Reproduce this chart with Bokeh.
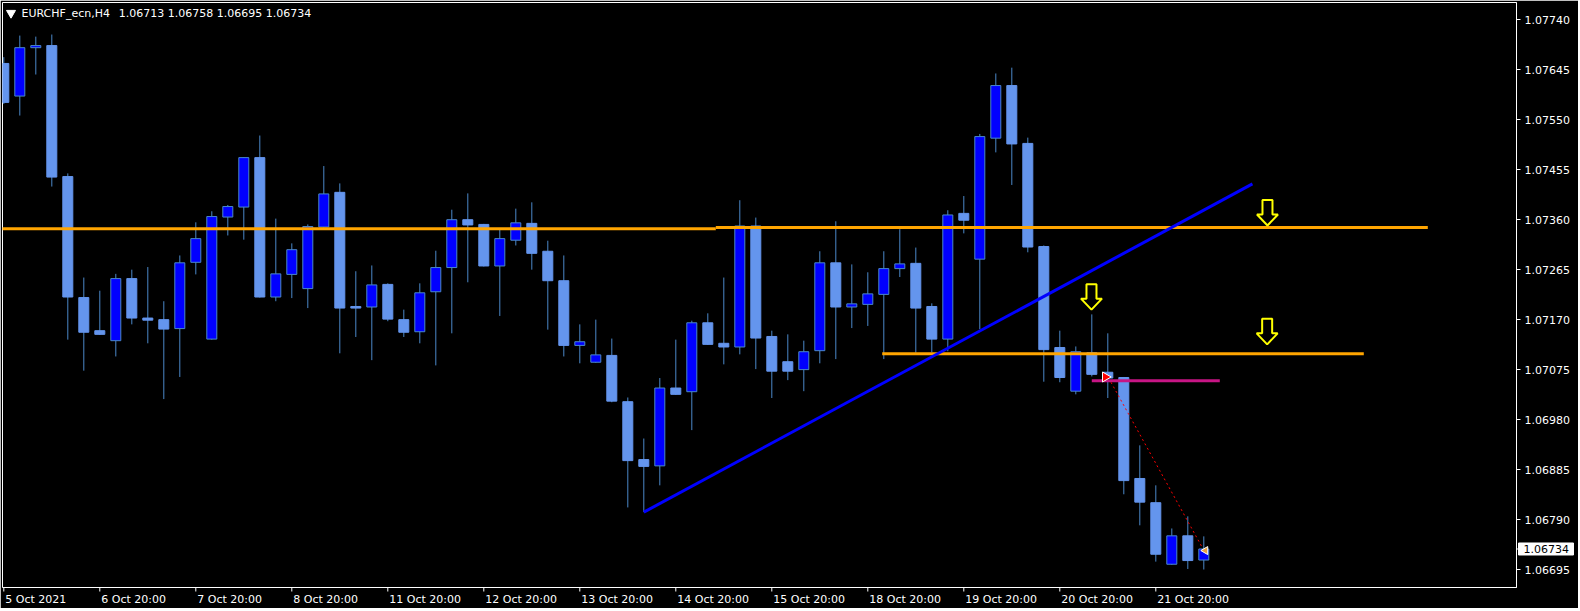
from bokeh.plotting import figure
from bokeh.models import LinearAxis, FixedTicker, Range1d, Label, PrintfTickFormatter
from bokeh.embed import file_html
from bokeh.resources import INLINE
from bokeh.core.properties import value

# ---------------- data (EURCHF_ecn, H4) ----------------
symbol = "EURCHF_ecn,H4"
bars = list(range(76))
opens = [1.07657, 1.07595, 1.07687, 1.07691, 1.07442, 1.07212, 1.07149, 1.07130, 1.07248, 1.07173,
         1.07170, 1.07153, 1.07279, 1.07133, 1.07365, 1.07384, 1.07478, 1.07213, 1.07256, 1.07229,
         1.07346, 1.07412, 1.07195, 1.07194, 1.07237, 1.07170, 1.07147, 1.07223, 1.07269, 1.07360,
         1.07351, 1.07272, 1.07321, 1.07353, 1.07300, 1.07244, 1.07121, 1.07089, 1.07102, 1.07014,
         1.06904, 1.06892, 1.07040, 1.07033, 1.07164, 1.07125, 1.07118, 1.07348, 1.07138, 1.07090,
         1.07075, 1.07111, 1.07278, 1.07194, 1.07199, 1.07218, 1.07267, 1.07277, 1.07195, 1.07133,
         1.07372, 1.07285, 1.07515, 1.07615, 1.07505, 1.07309, 1.07117, 1.07034, 1.07107, 1.07070,
         1.07060, 1.06868, 1.06822, 1.06705, 1.06759, 1.06713]
highs = [1.07669, 1.07710, 1.07708, 1.07712, 1.07448, 1.07250, 1.07225, 1.07257, 1.07265, 1.07270,
         1.07205, 1.07292, 1.07355, 1.07376, 1.07388, 1.07479, 1.07520, 1.07362, 1.07315, 1.07351,
         1.07462, 1.07429, 1.07262, 1.07273, 1.07239, 1.07189, 1.07239, 1.07301, 1.07379, 1.07410,
         1.07352, 1.07342, 1.07381, 1.07393, 1.07320, 1.07292, 1.07161, 1.07170, 1.07134, 1.07022,
         1.06944, 1.07059, 1.07132, 1.07168, 1.07182, 1.07250, 1.07397, 1.07364, 1.07149, 1.07142,
         1.07130, 1.07300, 1.07357, 1.07275, 1.07260, 1.07300, 1.07342, 1.07307, 1.07201, 1.07378,
         1.07405, 1.07523, 1.07638, 1.07649, 1.07516, 1.07311, 1.07149, 1.07119, 1.07180, 1.07144,
         1.07061, 1.06931, 1.06855, 1.06773, 1.06796, 1.06758]
lows = [1.07580, 1.07558, 1.07636, 1.07423, 1.07132, 1.07073, 1.07141, 1.07100, 1.07161, 1.07125,
        1.07019, 1.07061, 1.07256, 1.07132, 1.07330, 1.07322, 1.07212, 1.07205, 1.07211, 1.07192,
        1.07345, 1.07106, 1.07137, 1.07093, 1.07167, 1.07137, 1.07125, 1.07083, 1.07144, 1.07241,
        1.07271, 1.07177, 1.07311, 1.07265, 1.07151, 1.07100, 1.07087, 1.07088, 1.07013, 1.06813,
        1.06804, 1.06855, 1.07027, 1.06960, 1.07122, 1.07085, 1.07104, 1.07076, 1.07021, 1.07055,
        1.07034, 1.07087, 1.07095, 1.07154, 1.07158, 1.07095, 1.07251, 1.07107, 1.07108, 1.07110,
        1.07334, 1.07152, 1.07488, 1.07426, 1.07298, 1.07052, 1.07051, 1.07028, 1.07062, 1.07021,
        1.06838, 1.06779, 1.06710, 1.06704, 1.06696, 1.06695]
closes = [1.07583, 1.07687, 1.07691, 1.07441, 1.07213, 1.07146, 1.07142, 1.07248, 1.07173, 1.07169,
          1.07152, 1.07278, 1.07324, 1.07366, 1.07385, 1.07478, 1.07213, 1.07257, 1.07303, 1.07347,
          1.07409, 1.07192, 1.07192, 1.07236, 1.07171, 1.07146, 1.07221, 1.07269, 1.07360, 1.07350,
          1.07272, 1.07324, 1.07354, 1.07296, 1.07244, 1.07121, 1.07128, 1.07103, 1.07015, 1.06902,
          1.06891, 1.07040, 1.07028, 1.07164, 1.07123, 1.07118, 1.07348, 1.07135, 1.07072, 1.07072,
          1.07109, 1.07278, 1.07194, 1.07200, 1.07219, 1.07267, 1.07276, 1.07192, 1.07133, 1.07369,
          1.07359, 1.07518, 1.07615, 1.07504, 1.07308, 1.07113, 1.07060, 1.07109, 1.07066, 1.07059,
          1.06864, 1.06823, 1.06724, 1.06759, 1.06712, 1.06734]

time_label_bars = [0, 6, 12, 18, 24, 30, 36, 42, 48, 54, 60, 66, 72]
time_labels = ["5 Oct 2021", "6 Oct 20:00", "7 Oct 20:00", "8 Oct 20:00", "11 Oct 20:00",
               "12 Oct 20:00", "13 Oct 20:00", "14 Oct 20:00", "15 Oct 20:00", "18 Oct 20:00",
               "19 Oct 20:00", "20 Oct 20:00", "21 Oct 20:00"]
price_ticks = [1.07740, 1.07645, 1.07550, 1.07455, 1.07360, 1.07265, 1.07170,
               1.07075, 1.06980, 1.06885, 1.06790, 1.06695]
last_price = 1.06734

# drawn objects (bar index, price)
level_upper_left = {"x0": -0.5, "x1": 44.5, "price": 1.07343}
level_upper_right = {"x0": 44.5, "x1": 89.0, "price": 1.07345}
level_lower = {"x0": 54.9, "x1": 85.0, "price": 1.07105}
trend_x = [40.0, 78.04]
trend_y = [1.06804, 1.07428]
entry_level = {"x0": 68.0, "x1": 76.0, "price": 1.07054}
trade_path_x = [69.2, 74.9]
trade_path_y = [1.07051, 1.06737]
entry_mark = (68.85, 1.07061)
exit_mark = (75.1, 1.06731)
arrow_tip_x = [67.98, 78.98, 78.96]
arrow_tip_y = [1.07189, 1.07349, 1.07123]

# ---------------- calibration (pixel layout) ----------------
PX_PER_BAR = 16.0
BAR0_PX = 3.3          # page x of bar 0
PX_PER_PRICE = 52603.0
REF_PRICE, REF_PY = 1.07740, 19.3
FRAME_L, FRAME_T, FRAME_R, FRAME_B = 2, 2, 1516, 587

def bar_at(px):
    return (px - BAR0_PX) / PX_PER_BAR

def price_at(py):
    return REF_PRICE - (py - REF_PY) / PX_PER_PRICE

FONT = "DejaVu Sans"
BULL_FILL, BEAR_FILL = "#0000FF", "#6495ED"
EDGE = "#4A88C8"

p = figure(frame_width=FRAME_R - FRAME_L, frame_height=FRAME_B - FRAME_T,
           x_range=Range1d(bar_at(FRAME_L), bar_at(FRAME_R)),
           y_range=Range1d(price_at(FRAME_B), price_at(FRAME_T)),
           output_backend="svg", toolbar_location=None,
           x_axis_location=None, y_axis_location=None,
           background_fill_color="black", border_fill_color="black",
           outline_line_color="white", outline_line_width=1,
           min_border=0, min_border_left=FRAME_L, min_border_top=FRAME_T, min_border_right=62)
p.grid.visible = False

# candles
p.segment(x0=bars, y0=lows, x1=bars, y1=highs, line_color=EDGE, line_width=1)
bull = [i for i in bars if closes[i] >= opens[i]]
bear = [i for i in bars if closes[i] < opens[i]]
p.vbar(x=[bars[i] for i in bear], top=[opens[i] for i in bear], bottom=[closes[i] for i in bear],
       width=0.625, fill_color=BEAR_FILL, line_color=BEAR_FILL, line_width=1)
p.vbar(x=[bars[i] for i in bull], top=[closes[i] for i in bull], bottom=[opens[i] for i in bull],
       width=0.625, fill_color=BULL_FILL, line_color=EDGE, line_width=1)

# levels and lines
ORANGE = "#FFA500"
for lv in (level_upper_left, level_upper_right, level_lower):
    p.line(x=[lv["x0"], lv["x1"]], y=[lv["price"], lv["price"]], line_color=ORANGE, line_width=3)
p.line(x=trend_x, y=trend_y, line_color="#0000FF", line_width=3)
p.line(x=[entry_level["x0"], entry_level["x1"]], y=[entry_level["price"]] * 2,
       line_color="#C71585", line_width=3)
p.line(x=trade_path_x, y=trade_path_y, line_color="#FF0000", line_width=1, line_dash="2 3")
p.scatter(x=[entry_mark[0]], y=[entry_mark[1]], marker="triangle", angle=-1.5708,
          size=10, fill_color="#FF0000", line_color="white", line_width=1)
p.scatter(x=[exit_mark[0]], y=[exit_mark[1]], marker="triangle", angle=1.5708,
          size=8, fill_color="#E8A040", line_color="white", line_width=1)

# hollow yellow down arrows
shape = [(0, 0), (-10.5, 11), (-5, 11), (-5, 25.5), (5, 25.5), (5, 11), (10.5, 11)]
xs = [[tx + dx / PX_PER_BAR for dx, dy in shape] for tx in arrow_tip_x]
ys = [[ty + dy / PX_PER_PRICE for dx, dy in shape] for ty in arrow_tip_y]
p.patches(xs=xs, ys=ys, fill_color="black", line_color="#FFFF00", line_width=2)

# header
p.scatter(x=[bar_at(10.5)], y=[price_at(12.5)], marker="inverted_triangle", size=9,
          fill_color="white", line_color="white")
p.add_layout(Label(x=bar_at(21), y=price_at(12.8), text=symbol, text_color="white",
                   text_font=FONT, text_font_size="11px", text_baseline="middle"))
ohlc_txt = "%.5f %.5f %.5f %.5f" % (opens[-1], highs[-1], lows[-1], closes[-1])
p.add_layout(Label(x=bar_at(118.3), y=price_at(12.8), text=ohlc_txt, text_color="white",
                   text_font=FONT, text_font_size="11px", text_baseline="middle"))

# right price axis
yaxis = LinearAxis(ticker=FixedTicker(ticks=price_ticks), formatter=PrintfTickFormatter(format="%.5f"),
                   major_tick_out=4, major_tick_in=0, minor_tick_out=0, minor_tick_in=0,
                   major_label_standoff=4, axis_line_color="white", major_tick_line_color="white",
                   major_label_text_color="white", major_label_text_font=FONT,
                   major_label_text_font_size="11px")
p.add_layout(yaxis, "right")

# last price box (drawn on the overlay level, beside the frame)
box_w_px, box_h_px = 55, 12
p.rect(x=[bar_at(1518 + box_w_px / 2)], y=[last_price], width=box_w_px / PX_PER_BAR,
       height=box_h_px / PX_PER_PRICE, fill_color="white", line_color="white", level="overlay")
p.segment(x0=[bar_at(FRAME_R)], x1=[bar_at(FRAME_R + 3)], y0=[last_price], y1=[last_price],
          line_color="white", level="overlay")
p.text(x=[bar_at(1523)], y=[last_price], text=["%.5f" % last_price], text_color="black",
       text_font=value(FONT), text_font_size="11px", text_baseline="middle", level="overlay")

# time axis: tick marks at the bars, labels left aligned after the tick
p.segment(x0=time_label_bars, x1=time_label_bars,
          y0=[price_at(FRAME_B)] * len(time_label_bars), y1=[price_at(FRAME_B + 4)] * len(time_label_bars),
          line_color="white", level="overlay")
CHAR_W = {**{d: 7.0 for d in "0123456789"}, " ": 3.5, "O": 8.66, "c": 6.05, "t": 4.31, ":": 3.7}
def text_width(s):
    return sum(CHAR_W.get(ch, 7.0) for ch in s)

label_pos = [round(b + (1.5 + text_width(t) / 2) / PX_PER_BAR, 3) for b, t in zip(time_label_bars, time_labels)]
label_axis = LinearAxis(ticker=FixedTicker(ticks=label_pos),
                        major_label_overrides={pos: t for pos, t in zip(label_pos, time_labels)},
                        major_tick_out=0, major_tick_in=0, minor_tick_out=0, minor_tick_in=0,
                        axis_line_color=None, major_label_standoff=5,
                        major_label_text_color="white", major_label_text_font=FONT,
                        major_label_text_font_size="11px")
p.add_layout(label_axis, "below")

open("out.html", "w").write(file_html(p, INLINE))
